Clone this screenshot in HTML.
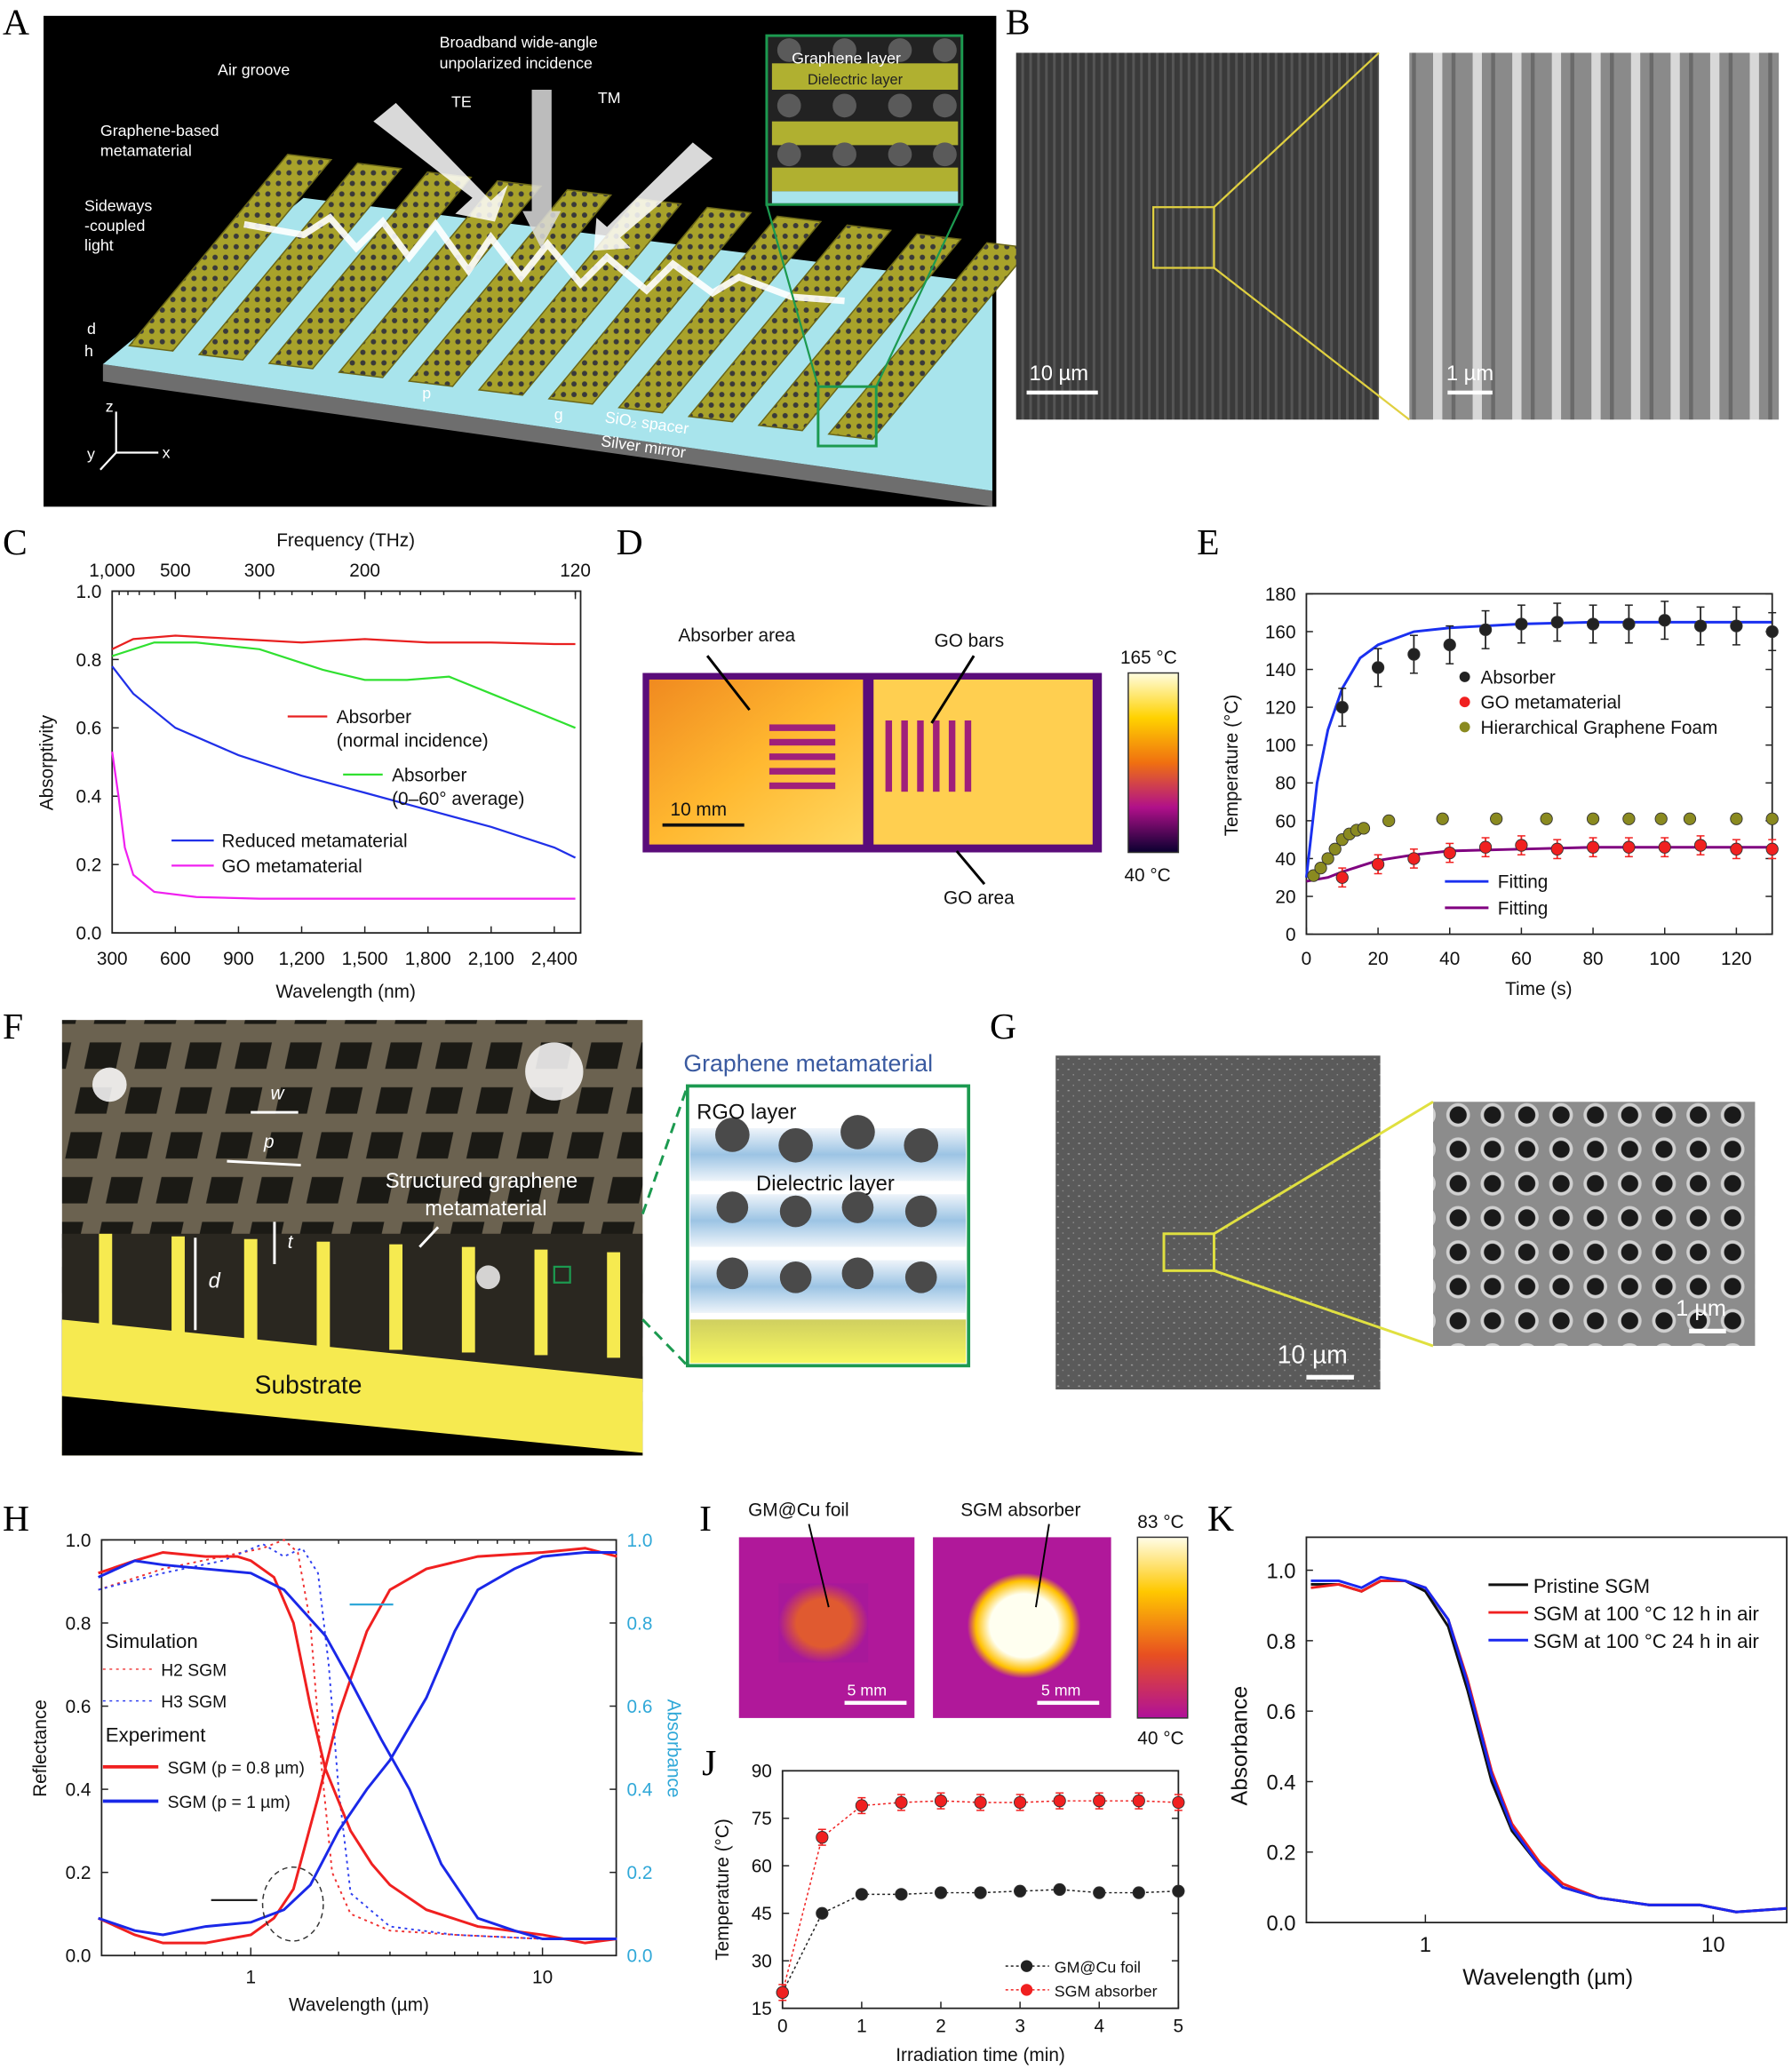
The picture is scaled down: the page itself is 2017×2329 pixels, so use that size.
<!DOCTYPE html>
<html><head><meta charset="utf-8"><style>
html,body{margin:0;padding:0;background:#fff;}
svg{display:block;font-family:"Liberation Sans",sans-serif;}
.pl{font-family:"Liberation Serif",serif;font-size:28px;}
.t{font-size:14px;fill:#111;}
.tw{font-size:12px;fill:#fff;}
</style></head><body>
<svg id="fig" xmlns="http://www.w3.org/2000/svg" width="2017" height="2329" viewBox="0 0 1358 1568" preserveAspectRatio="none">
<defs>
<pattern id="stripesB" width="6" height="10" patternUnits="userSpaceOnUse"><rect width="6" height="10" fill="#3a3a3a"/><rect width="2" height="10" fill="#555"/></pattern>
<pattern id="stripesB2" width="30" height="10" patternUnits="userSpaceOnUse"><rect width="30" height="10" fill="#8a8a8a"/><rect x="6" width="7" height="10" fill="#d8d8d8"/><rect x="20" width="3" height="10" fill="#6a6a6a"/></pattern>
<pattern id="gridF" width="38" height="34" patternUnits="userSpaceOnUse" patternTransform="skewX(-12)"><rect width="38" height="34" fill="#6b6250"/><rect x="8" y="8" width="24" height="20" fill="#1b1a15"/></pattern>
<pattern id="holesG" width="26" height="26" patternUnits="userSpaceOnUse"><rect width="26" height="26" fill="#8c8c8c"/><circle cx="13" cy="13" r="9" fill="#d0d0d0"/><circle cx="13" cy="13" r="6.5" fill="#1a1a1a"/></pattern>
<pattern id="noiseG" width="8" height="8" patternUnits="userSpaceOnUse"><rect width="8" height="8" fill="#5a5a5a"/><rect x="1" y="2" width="1.5" height="1" fill="#9a9a9a"/><rect x="5" y="6" width="1" height="1" fill="#8a8a8a"/></pattern>
<pattern id="barTex" width="8" height="8" patternUnits="userSpaceOnUse"><rect width="8" height="8" fill="#a8a22a"/><circle cx="3" cy="3" r="2" fill="#3a3a3a"/></pattern>
<linearGradient id="cbD" x1="0" y1="0" x2="0" y2="1"><stop offset="0" stop-color="#fffde0"/><stop offset="0.25" stop-color="#ffd200"/><stop offset="0.5" stop-color="#f07010"/><stop offset="0.75" stop-color="#b0108a"/><stop offset="1" stop-color="#0a0030"/></linearGradient>
<linearGradient id="cbI" x1="0" y1="0" x2="0" y2="1"><stop offset="0" stop-color="#fffde8"/><stop offset="0.3" stop-color="#ffc800"/><stop offset="0.65" stop-color="#e85020"/><stop offset="1" stop-color="#b0109a"/></linearGradient>
<radialGradient id="hotI"><stop offset="0.6" stop-color="#fffff0"/><stop offset="0.85" stop-color="#ffc000"/><stop offset="1" stop-color="#b0189a"/></radialGradient>
<radialGradient id="warmI"><stop offset="0.6" stop-color="#e05a30"/><stop offset="1" stop-color="#a8189a"/></radialGradient>
<linearGradient id="thermD" x1="0" y1="0" x2="1" y2="1"><stop offset="0" stop-color="#f08a20"/><stop offset="0.5" stop-color="#ffb830"/><stop offset="1" stop-color="#ffd860"/></linearGradient>
<linearGradient id="layerBlue" x1="0" y1="0" x2="0" y2="1"><stop offset="0" stop-color="#eef4fa"/><stop offset="0.5" stop-color="#9cc4e4"/><stop offset="1" stop-color="#eef4fa"/></linearGradient>
<linearGradient id="subY" x1="0" y1="0" x2="0" y2="1"><stop offset="0" stop-color="#cfcf60"/><stop offset="1" stop-color="#f8f860"/></linearGradient>
</defs>

<g>
<text class="pl" x="2" y="26">A</text><text class="pl" x="762" y="26">B</text>
<text class="pl" x="2" y="420">C</text><text class="pl" x="467" y="420">D</text><text class="pl" x="907" y="420">E</text>
<text class="pl" x="2" y="787">F</text><text class="pl" x="750" y="787">G</text>
<text class="pl" x="2" y="1160">H</text><text class="pl" x="530" y="1160">I</text><text class="pl" x="532" y="1345">J</text><text class="pl" x="915" y="1160">K</text>
</g>

<g>
<rect x="33" y="12" width="722" height="372" fill="#000"/>
<polygon points="78,289 752,384 752,372 78,276" fill="#6e6e6e"/>
<polygon points="78,276 752,372 752,215 230,150" fill="#a8e4ec"/>
<g id="barsA"></g>
<g fill="#fff" opacity="0.85">
<polygon points="283,92 300,78 372,152 385,140 375,168 345,162 358,150"/>
<rect x="403" y="68" width="15" height="100" fill="#ddd"/><polygon points="396,160 425,160 410,188" fill="#ddd"/>
<polygon points="525,108 540,120 470,180 478,188 450,190 452,165 460,172"/>
</g>
<path d="M185,170 L230,178 L250,165 L270,188 L290,168 L310,195 L330,170 L355,205 L372,180 L395,210 L415,185 L440,215 L460,195 L490,220 L510,200 L540,222 L560,210 L600,225 L640,228" fill="none" stroke="#fff" stroke-width="5" opacity="0.9"/>
<text class="tw" x="333" y="36">Broadband wide-angle</text><text class="tw" x="333" y="52">unpolarized incidence</text>
<text class="tw" x="165" y="57">Air groove</text>
<text class="tw" x="76" y="103">Graphene-based</text><text class="tw" x="76" y="118">metamaterial</text>
<text class="tw" x="64" y="160">Sideways</text><text class="tw" x="64" y="175">-coupled</text><text class="tw" x="64" y="190">light</text>
<text class="tw" x="342" y="81">TE</text><text class="tw" x="453" y="78">TM</text>
<text class="tw" x="458" y="320" font-size="11" transform="rotate(8 458 320)">SiO₂ spacer</text>
<text class="tw" x="455" y="338" font-size="11" fill="#333" transform="rotate(8 455 338)">Silver mirror</text>
<text class="tw" x="66" y="253">d</text><text class="tw" x="64" y="270">h</text>
<text class="tw" x="320" y="302">p</text><text class="tw" x="420" y="318">g</text>
<path d="M88,343 L88,312 M88,343 L120,343 M88,343 L76,356" stroke="#fff" stroke-width="1.5"/>
<text class="tw" x="80" y="312">z</text><text class="tw" x="123" y="347">x</text><text class="tw" x="66" y="348">y</text>
<rect x="581" y="27" width="148" height="128" fill="#222" stroke="#1c9a50" stroke-width="2"/>
<rect x="585" y="48" width="141" height="20" fill="#b0b030"/><rect x="585" y="92" width="141" height="18" fill="#b0b030"/><rect x="585" y="127" width="141" height="18" fill="#b0b030"/><rect x="585" y="145" width="141" height="9" fill="#a8e4ec"/>
<g fill="#5a5a5a"><circle cx="598" cy="38" r="9"/><circle cx="640" cy="38" r="9"/><circle cx="682" cy="38" r="9"/><circle cx="716" cy="38" r="9"/><circle cx="598" cy="80" r="9"/><circle cx="640" cy="80" r="9"/><circle cx="682" cy="80" r="9"/><circle cx="716" cy="80" r="9"/><circle cx="598" cy="117" r="9"/><circle cx="640" cy="117" r="9"/><circle cx="682" cy="117" r="9"/><circle cx="716" cy="117" r="9"/></g>
<text class="tw" x="600" y="48" font-size="11">Graphene layer</text><text x="612" y="64" font-size="11" fill="#222">Dielectric layer</text>
<rect x="620" y="293" width="44" height="45" fill="none" stroke="#1c9a50" stroke-width="2"/>
<path d="M581,155 L620,293 M729,155 L664,293" stroke="#1c9a50" stroke-width="1.5"/>
</g>

<g>
<rect x="770" y="40" width="275" height="278" fill="url(#stripesB)"/>
<rect x="1068" y="40" width="280" height="278" fill="url(#stripesB2)"/>
<rect x="874" y="157" width="46" height="46" fill="none" stroke="#e0d040" stroke-width="1.5"/>
<path d="M920,157 L1045,40 M920,203 L1068,318" stroke="#e0d040" stroke-width="1.5"/>
<text x="780" y="288" font-size="16" fill="#fff">10 µm</text><rect x="778" y="296" width="54" height="3" fill="#fff"/>
<text x="1096" y="288" font-size="16" fill="#fff">1 µm</text><rect x="1097" y="296" width="34" height="3" fill="#fff"/>
</g>

<g id="chartC"></g>
<g>
<rect x="487" y="510" width="348" height="136" fill="#5a0c7a"/>
<rect x="492" y="515" width="162" height="125" fill="url(#thermD)"/>
<rect x="662" y="515" width="166" height="125" fill="#ffcf50"/>
<g fill="#a0207a"><rect x="583" y="549" width="50" height="5"/><rect x="583" y="560" width="50" height="5"/><rect x="583" y="571" width="50" height="5"/><rect x="583" y="582" width="50" height="5"/><rect x="583" y="593" width="50" height="5"/>
<rect x="671" y="546" width="5" height="54"/><rect x="683" y="546" width="5" height="54"/><rect x="695" y="546" width="5" height="54"/><rect x="707" y="546" width="5" height="54"/><rect x="719" y="546" width="5" height="54"/><rect x="731" y="546" width="5" height="54"/></g>
<rect x="502" y="624" width="62" height="2.5" fill="#111"/><text class="t" x="508" y="618" font-size="15">10 mm</text>
<text class="t" x="514" y="486" font-size="16">Absorber area</text><text class="t" x="708" y="490" font-size="16">GO bars</text><text class="t" x="715" y="685" font-size="16">GO area</text>
<path d="M536,497 L568,538 M738,497 L706,548 M746,670 L725,645" stroke="#000" stroke-width="2"/>
<rect x="855" y="510" width="38" height="136" fill="url(#cbD)" stroke="#333"/>
<text class="t" x="849" y="503" font-size="15">165 °C</text><text class="t" x="852" y="668" font-size="15">40 °C</text>
</g>
<g id="chartE"></g>

<g>
<rect x="47" y="773" width="440" height="330" fill="url(#gridF)"/>
<rect x="47" y="935" width="440" height="120" fill="#2a2720"/>
<g id="teethF"></g>
<polygon points="47,1000 487,1045 487,1103 47,1103" fill="#f6ea50"/>
<polygon points="47,1058 47,1103 487,1103 487,1101" fill="#000"/>
<circle cx="83" cy="822" r="13" fill="#fff" opacity="0.85"/><circle cx="420" cy="812" r="22" fill="#fff" opacity="0.85"/><circle cx="370" cy="968" r="9" fill="#fff" opacity="0.8"/>
<text x="193" y="1056" font-size="19" fill="#111">Substrate</text>
<text x="292" y="900" font-size="16" fill="#fff">Structured graphene</text><text x="322" y="921" font-size="16" fill="#fff">metamaterial</text>
<text x="205" y="833" font-size="14" fill="#fff" font-style="italic">w</text><text x="200" y="870" font-size="14" fill="#fff" font-style="italic">p</text><text x="158" y="976" font-size="16" fill="#fff" font-style="italic">d</text><text x="218" y="946" font-size="14" fill="#fff" font-style="italic">t</text>
<path d="M190,843 L226,843 M172,880 L228,883 M148,938 L148,1008 M208,926 L208,958 M318,945 L332,930" stroke="#fff" stroke-width="2"/>
<text x="518" y="812" font-size="18" fill="#3a5aa0">Graphene metamaterial</text>
<rect x="521" y="823" width="213" height="212" fill="#fff" stroke="#1c9a50" stroke-width="2.5"/>
<rect x="523" y="855" width="209" height="40" fill="url(#layerBlue)"/><rect x="523" y="905" width="209" height="40" fill="url(#layerBlue)"/><rect x="523" y="955" width="209" height="40" fill="url(#layerBlue)"/>
<rect x="523" y="1000" width="209" height="33" fill="url(#subY)"/>
<g fill="#4a4a4a"><circle cx="555" cy="860" r="13"/><circle cx="603" cy="868" r="13"/><circle cx="650" cy="858" r="13"/><circle cx="698" cy="868" r="13"/><circle cx="555" cy="915" r="12"/><circle cx="603" cy="918" r="12"/><circle cx="650" cy="915" r="12"/><circle cx="698" cy="918" r="12"/><circle cx="555" cy="965" r="12"/><circle cx="603" cy="968" r="12"/><circle cx="650" cy="965" r="12"/><circle cx="698" cy="968" r="12"/></g>
<text x="528" y="848" font-size="16" fill="#111">RGO layer</text><text x="573" y="902" font-size="16" fill="#111">Dielectric layer</text>
<path d="M487,920 L521,823 M487,1000 L521,1035" stroke="#1c9a50" stroke-width="2" stroke-dasharray="8 5"/>
<rect x="420" y="960" width="12" height="12" fill="none" stroke="#1c9a50" stroke-width="1.5"/>
</g>

<g>
<rect x="800" y="800" width="246" height="253" fill="url(#noiseG)"/>
<rect x="1086" y="835" width="244" height="185" fill="url(#holesG)"/>
<rect x="882" y="935" width="38" height="28" fill="none" stroke="#e0e040" stroke-width="2"/>
<path d="M920,935 L1086,835 M920,963 L1086,1020" stroke="#e0e040" stroke-width="2"/>
<text x="968" y="1033" font-size="19" fill="#fff">10 µm</text><rect x="990" y="1042" width="36" height="3.5" fill="#fff"/>
<text x="1270" y="997" font-size="17" fill="#fff">1 µm</text><rect x="1280" y="1007" width="28" height="3.5" fill="#fff"/>
</g>

<g id="chartH"></g>
<g>
<rect x="560" y="1165" width="133" height="137" fill="#b0189a"/>
<rect x="590" y="1200" width="68" height="60" fill="url(#warmI)"/>
<rect x="707" y="1165" width="135" height="137" fill="#b0189a"/>
<rect x="733" y="1192" width="86" height="80" rx="14" fill="url(#hotI)"/>
<rect x="640" y="1289" width="47" height="3" fill="#fff"/><text x="642" y="1285" font-size="12" fill="#fff">5 mm</text>
<rect x="786" y="1289" width="47" height="3" fill="#fff"/><text x="789" y="1285" font-size="12" fill="#fff">5 mm</text>
<text class="t" x="567" y="1149">GM@Cu foil</text><text class="t" x="728" y="1149">SGM absorber</text>
<path d="M613,1155 L628,1218 M795,1155 L785,1218" stroke="#000" stroke-width="1.3"/>
<rect x="862" y="1165" width="38" height="137" fill="url(#cbI)" stroke="#333"/>
<text class="t" x="862" y="1158">83 °C</text><text class="t" x="862" y="1322">40 °C</text>
</g>
<g id="chartJ"></g>
<g id="chartK"></g>
</svg>

<script>
const cWlNormal=[300,400,600,900,1200,1500,1800,2100,2400,2500];
const cAbsNormal=[0.83,0.86,0.87,0.86,0.85,0.86,0.85,0.85,0.845,0.845];
const cWlAvg=[300,500,700,1000,1300,1500,1700,1900,2100,2300,2500];
const cAbsAvg=[0.81,0.85,0.85,0.83,0.77,0.74,0.74,0.75,0.70,0.65,0.60];
const cWlReduced=[300,400,600,900,1200,1500,1800,2100,2400,2500];
const cAbsReduced=[0.78,0.70,0.60,0.52,0.46,0.41,0.36,0.31,0.25,0.22];
const cWlGO=[300,330,360,400,500,700,1000,1500,2000,2500];
const cAbsGO=[0.53,0.40,0.25,0.17,0.12,0.105,0.10,0.10,0.10,0.10];
const cXTicks=[300,600,900,1200,1500,1800,2100,2400];
const cXTickLabels=["300","600","900","1,200","1,500","1,800","2,100","2,400"];
const cYTicks=[0,0.2,0.4,0.6,0.8,1.0];
const cFreqTicks=[1000,500,300,200,120];
const cFreqLabels=["1,000","500","300","200","120"];
const eTime=[10,20,30,40,50,60,70,80,90,100,110,120,130];
const eAbsorber=[120,141,148,153,161,164,165,164,164,166,163,163,160];
const eGO=[30,37,40,43,46,47,45,46,46,46,47,45,45];
const eHGFTime=[2,4,6,8,10,12,14,16,23,38,53,67,80,90,99,107,120,130];
const eHGF=[31,35,40,45,50,53,55,56,60,61,61,61,61,61,61,61,61,61];
const eFitTime=[0,3,6,10,15,20,30,40,60,80,100,130];
const eFitAbs=[30,80,108,130,146,153,160,162,164,165,165,165];
const eFitGO=[28,29,30,33,36,39,42,44,45,46,46,46];
const eXTicks=[0,20,40,60,80,100,120];
const eYTicks=[0,20,40,60,80,100,120,140,160,180];
const hWlRedR=[0.3,0.4,0.5,0.7,0.9,1.0,1.2,1.4,1.6,1.8,2.2,2.6,3.0,4.0,6.0,10,14,18];
const hRedR=[0.92,0.95,0.97,0.96,0.96,0.95,0.91,0.80,0.60,0.45,0.30,0.22,0.17,0.11,0.07,0.05,0.03,0.04];
const hWlRedA=[0.3,0.4,0.5,0.7,1.0,1.2,1.4,1.7,2.0,2.5,3.0,4.0,6.0,10,14,18];
const hRedA=[0.09,0.05,0.03,0.03,0.05,0.09,0.16,0.38,0.58,0.78,0.88,0.93,0.96,0.97,0.98,0.96];
const hWlBlueR=[0.3,0.4,0.5,0.7,1.0,1.3,1.8,2.2,2.8,3.5,4.5,6.0,8.0,10,14,18];
const hBlueR=[0.91,0.95,0.94,0.93,0.92,0.88,0.77,0.66,0.52,0.40,0.22,0.09,0.06,0.04,0.04,0.04];
const hWlBlueA=[0.3,0.4,0.5,0.7,1.0,1.3,1.6,2.0,2.5,3.0,4.0,5.0,6.0,8.0,10,14,18];
const hBlueA=[0.09,0.06,0.05,0.07,0.08,0.11,0.17,0.30,0.40,0.47,0.62,0.78,0.88,0.93,0.96,0.97,0.97];
const hWlSimRed=[0.3,0.5,0.8,1.1,1.3,1.45,1.6,1.75,1.9,2.2,3.0,5.0,10,18];
const hSimRed=[0.88,0.93,0.96,0.98,1.0,0.97,0.80,0.45,0.20,0.10,0.06,0.05,0.04,0.04];
const hWlSimBlue=[0.3,0.5,0.8,1.1,1.3,1.5,1.7,1.85,2.0,2.2,3.0,5.0,10,18];
const hSimBlue=[0.88,0.92,0.95,0.99,0.96,0.98,0.92,0.70,0.40,0.15,0.07,0.05,0.04,0.04];
const hYTicks=[0,0.2,0.4,0.6,0.8,1.0];
const hXTicks=[1,10];
const jTime=[0,0.5,1,1.5,2,2.5,3,3.5,4,4.5,5];
const jGM=[20,45,51,51,51.5,51.5,52,52.5,51.5,51.5,52];
const jSGM=[20,69,79,80,80.5,80,80,80.5,80.5,80.5,80];
const jXTicks=[0,1,2,3,4,5];
const jYTicks=[15,30,45,60,75,90];
const kWl=[0.4,0.5,0.6,0.7,0.85,1.0,1.2,1.4,1.7,2.0,2.5,3.0,4.0,6.0,9.0,12,18];
const kPristine=[0.96,0.96,0.94,0.97,0.97,0.94,0.84,0.66,0.40,0.26,0.16,0.10,0.07,0.05,0.05,0.03,0.04];
const k12h=[0.95,0.96,0.94,0.97,0.97,0.95,0.86,0.69,0.43,0.28,0.17,0.11,0.07,0.05,0.05,0.03,0.04];
const k24h=[0.97,0.97,0.95,0.98,0.97,0.95,0.86,0.68,0.42,0.27,0.16,0.10,0.07,0.05,0.05,0.03,0.04];
const kYTicks=[0,0.2,0.4,0.6,0.8,1.0];
const kXTicks=[1,10];

const NS='http://www.w3.org/2000/svg';
function mk(tag,attrs,parent){const e=document.createElementNS(NS,tag);for(const k in attrs)e.setAttribute(k,attrs[k]);parent.appendChild(e);return e;}
function lin(d0,d1,r0,r1){return v=>r0+(v-d0)/(d1-d0)*(r1-r0);}
function lg(d0,d1,r0,r1){return v=>r0+(Math.log10(v)-Math.log10(d0))/(Math.log10(d1)-Math.log10(d0))*(r1-r0);}
function pts(xs,ys,sx,sy){return xs.map((x,i)=>sx(x).toFixed(1)+','+sy(ys[i]).toFixed(1)).join(' ');}
function txt(parent,x,y,s,opt){const t=mk('text',Object.assign({x:x,y:y,'font-size':14,fill:'#111'},opt||{}),parent);t.textContent=s;return t;}

(function(){const g=document.getElementById('barsA');
for(let i=0;i<11;i++){const fx=98+i*53,fy=262+i*6.7;
const b=mk('polygon',{points:`${fx},${fy} ${fx+33},${fy+4} ${fx+33+120},${fy+4-145} ${fx+120},${fy-145}`,fill:'url(#barTex)',stroke:'#6a6618','stroke-width':1},g);

}})();
(function(){const g=document.getElementById('teethF');
for(let i=0;i<8;i++){const x=75+i*55;const r=mk('rect',{x:x,y:935+i*2,width:10,height:80,fill:'#f6ea50'},g);

}})();

function frame(g,x0,y0,x1,y1){mk('rect',{x:x0,y:y0,width:x1-x0,height:y1-y0,fill:'none',stroke:'#222','stroke-width':1.2},g);}
function line(g,xs,ys,sx,sy,color,name,w,dash){const p=mk('polyline',{points:pts(xs,ys,sx,sy),fill:'none',stroke:color,'stroke-width':w||1.5},g);if(dash)p.setAttribute('stroke-dasharray',dash);

return p;}
function dots(g,xs,ys,sx,sy,fill,name,err){xs.forEach((x,i)=>{if(err){mk('line',{x1:sx(x),x2:sx(x),y1:sy(ys[i]-err),y2:sy(ys[i]+err),stroke:fill,'stroke-width':1.2},g);mk('line',{x1:sx(x)-3,x2:sx(x)+3,y1:sy(ys[i]-err),y2:sy(ys[i]-err),stroke:fill},g);mk('line',{x1:sx(x)-3,x2:sx(x)+3,y1:sy(ys[i]+err),y2:sy(ys[i]+err),stroke:fill},g);}
const c=mk('circle',{cx:sx(x),cy:sy(ys[i]),r:4.5,fill:fill,stroke:'#333','stroke-width':0.6},g);

});}

(function(){const g=document.getElementById('chartC');const X0=85,X1=440,Y0=707,Y1=448;
const sx=lin(300,2525,X0,X1),sy=lin(0,1,Y0,Y1);frame(g,X0,Y1,X1,Y0);
cXTicks.forEach((v,i)=>{mk('line',{x1:sx(v),x2:sx(v),y1:Y0,y2:Y0-5,stroke:'#222'},g);txt(g,sx(v),Y0+24,cXTickLabels[i],{'text-anchor':'middle'});});
cYTicks.forEach(v=>{mk('line',{x1:X0,x2:X0+5,y1:sy(v),y2:sy(v),stroke:'#222'},g);txt(g,X0-8,sy(v)+5,v.toFixed(1),{'text-anchor':'end'});});
cFreqTicks.forEach((f,i)=>{const x=sx(300000/f);mk('line',{x1:x,x2:x,y1:Y1,y2:Y1+6,stroke:'#222'},g);txt(g,x,Y1-11,cFreqLabels[i],{'text-anchor':'middle'});});
for(let f=1000;f>=120;f-=(f>300?100:(f>200?20:10))){const x=sx(300000/f);mk('line',{x1:x,x2:x,y1:Y1,y2:Y1+3,stroke:'#222'},g);}
txt(g,262,414,'Frequency (THz)',{'text-anchor':'middle'});txt(g,262,756,'Wavelength (nm)',{'text-anchor':'middle'});
txt(g,40,578,'Absorptivity',{'text-anchor':'middle',transform:'rotate(-90 40 578)'});
line(g,cWlNormal,cAbsNormal,sx,sy,'#e82020','absorber-normal-line');
line(g,cWlAvg,cAbsAvg,sx,sy,'#30e030','absorber-average-line');
line(g,cWlReduced,cAbsReduced,sx,sy,'#2030e8','reduced-metamaterial-line');
line(g,cWlGO,cAbsGO,sx,sy,'#f020f0','go-metamaterial-line');
mk('line',{x1:218,x2:248,y1:543,y2:543,stroke:'#e82020','stroke-width':1.5},g);txt(g,255,548,'Absorber');txt(g,255,566,'(normal incidence)');
mk('line',{x1:260,x2:290,y1:587,y2:587,stroke:'#30e030','stroke-width':1.5},g);txt(g,297,592,'Absorber');txt(g,297,610,'(0–60° average)');
mk('line',{x1:130,x2:162,y1:637,y2:637,stroke:'#2030e8','stroke-width':1.5},g);txt(g,168,642,'Reduced metamaterial');
mk('line',{x1:130,x2:162,y1:656,y2:656,stroke:'#f020f0','stroke-width':1.5},g);txt(g,168,661,'GO metamaterial');})();

(function(){const g=document.getElementById('chartE');const X0=990,X1=1343,Y0=708,Y1=450;
const sx=lin(0,130,X0,X1),sy=lin(0,180,Y0,Y1);frame(g,X0,Y1,X1,Y0);
eXTicks.forEach(v=>{mk('line',{x1:sx(v),x2:sx(v),y1:Y0,y2:Y0-5,stroke:'#222'},g);txt(g,sx(v),Y0+23,String(v),{'text-anchor':'middle'});});
eYTicks.forEach(v=>{mk('line',{x1:X0,x2:X0+5,y1:sy(v),y2:sy(v),stroke:'#222'},g);mk('line',{x1:X1,x2:X1-5,y1:sy(v),y2:sy(v),stroke:'#222'},g);txt(g,X0-8,sy(v)+5,String(v),{'text-anchor':'end'});});
txt(g,1166,754,'Time (s)',{'text-anchor':'middle'});txt(g,938,580,'Temperature (°C)',{'text-anchor':'middle',transform:'rotate(-90 938 580)'});
line(g,eFitTime,eFitAbs,sx,sy,'#1a30f0','fit-absorber-line',2);
line(g,eFitTime,eFitGO,sx,sy,'#800080','fit-go-line',2);
dots(g,eTime,eAbsorber,sx,sy,'#222','absorber-point',10);
dots(g,eTime,eGO,sx,sy,'#f02020','go-point',5);
dots(g,eHGFTime,eHGF,sx,sy,'#8a8a20','hgf-point');
mk('circle',{cx:1110,cy:513,r:4,fill:'#222'},g);txt(g,1122,518,'Absorber');
mk('circle',{cx:1110,cy:532,r:4,fill:'#f02020'},g);txt(g,1122,537,'GO metamaterial');
mk('circle',{cx:1110,cy:551,r:4,fill:'#8a8a20'},g);txt(g,1122,556,'Hierarchical Graphene Foam');
mk('line',{x1:1095,x2:1128,y1:668,y2:668,stroke:'#1a30f0','stroke-width':2},g);txt(g,1135,673,'Fitting');
mk('line',{x1:1095,x2:1128,y1:688,y2:688,stroke:'#800080','stroke-width':2},g);txt(g,1135,693,'Fitting');})();

(function(){const g=document.getElementById('chartH');const X0=77,X1=467,Y0=1482,Y1=1167;
const sx=lg(0.308,17.9,X0,X1),sy=lin(0,1,Y0,Y1);frame(g,X0,Y1,X1,Y0);
hYTicks.forEach(v=>{mk('line',{x1:X0,x2:X0+5,y1:sy(v),y2:sy(v),stroke:'#222'},g);mk('line',{x1:X1,x2:X1-5,y1:sy(v),y2:sy(v),stroke:'#222'},g);txt(g,X0-8,sy(v)+5,v.toFixed(1),{'text-anchor':'end'});txt(g,X1+8,sy(v)+5,v.toFixed(1),{fill:'#30a8d8'});});
hXTicks.forEach(v=>{mk('line',{x1:sx(v),x2:sx(v),y1:Y0,y2:Y0-6,stroke:'#222'},g);txt(g,sx(v),Y0+21,String(v),{'text-anchor':'middle'});});
[0.4,0.5,0.6,0.7,0.8,0.9,2,3,4,5,6,7,8,9].forEach(v=>{mk('line',{x1:sx(v),x2:sx(v),y1:Y0,y2:Y0-3,stroke:'#222'},g);mk('line',{x1:sx(v),x2:sx(v),y1:Y1,y2:Y1+3,stroke:'#222'},g);});
txt(g,272,1524,'Wavelength (µm)',{'text-anchor':'middle'});
txt(g,35,1325,'Reflectance',{'text-anchor':'middle',transform:'rotate(-90 35 1325)'});
txt(g,506,1325,'Absorbance',{'text-anchor':'middle',fill:'#30a8d8',transform:'rotate(90 506 1325)'});
line(g,hWlSimRed,hSimRed,sx,sy,'#f03030','sim-h2-line',1.3,'2 3');
line(g,hWlSimBlue,hSimBlue,sx,sy,'#3040f0','sim-h3-line',1.3,'2 3');
line(g,hWlRedR,hRedR,sx,sy,'#f02020','sgm-08-reflectance-line',2);
line(g,hWlRedA,hRedA,sx,sy,'#f02020','sgm-08-absorbance-line',2);
line(g,hWlBlueR,hBlueR,sx,sy,'#1a28e8','sgm-1-reflectance-line',2);
line(g,hWlBlueA,hBlueA,sx,sy,'#1a28e8','sgm-1-absorbance-line',2);
mk('ellipse',{cx:222,cy:1443,rx:23,ry:28,fill:'none',stroke:'#333','stroke-dasharray':'4 3'},g);
mk('line',{x1:195,x2:160,y1:1440,y2:1440,stroke:'#222','stroke-width':1.5},g);
mk('line',{x1:265,x2:298,y1:1216,y2:1216,stroke:'#30a8d8','stroke-width':1.5},g);
txt(g,80,1249,'Simulation',{'font-size':15});
mk('line',{x1:78,x2:118,y1:1265,y2:1265,stroke:'#f03030','stroke-dasharray':'2 3'},g);txt(g,122,1270,'H2 SGM',{'font-size':13});
mk('line',{x1:78,x2:118,y1:1289,y2:1289,stroke:'#3040f0','stroke-dasharray':'2 3'},g);txt(g,122,1294,'H3 SGM',{'font-size':13});
txt(g,80,1320,'Experiment',{'font-size':15});
mk('line',{x1:78,x2:120,y1:1339,y2:1339,stroke:'#f02020','stroke-width':2.5},g);txt(g,127,1344,'SGM (p = 0.8 µm)',{'font-size':13});
mk('line',{x1:78,x2:120,y1:1365,y2:1365,stroke:'#1a28e8','stroke-width':2.5},g);txt(g,127,1370,'SGM (p = 1 µm)',{'font-size':13});})();

(function(){const g=document.getElementById('chartJ');const X0=593,X1=893,Y0=1522,Y1=1342;
const sx=lin(0,5,X0,X1),sy=lin(15,90,Y0,Y1);frame(g,X0,Y1,X1,Y0);
jXTicks.forEach(v=>{mk('line',{x1:sx(v),x2:sx(v),y1:Y0,y2:Y0-5,stroke:'#222'},g);txt(g,sx(v),Y0+18,String(v),{'text-anchor':'middle'});});
jYTicks.forEach(v=>{mk('line',{x1:X0,x2:X0+5,y1:sy(v),y2:sy(v),stroke:'#222'},g);mk('line',{x1:X1,x2:X1-5,y1:sy(v),y2:sy(v),stroke:'#222'},g);txt(g,X0-8,sy(v)+5,String(v),{'text-anchor':'end'});});
txt(g,743,1562,'Irradiation time (min)',{'text-anchor':'middle'});
txt(g,552,1432,'Temperature (°C)',{'text-anchor':'middle',transform:'rotate(-90 552 1432)'});
line(g,jTime,jGM,sx,sy,'#222','gm-cu-line',1,'2 2');
line(g,jTime,jSGM,sx,sy,'#f02020','sgm-line',1,'2 2');
dots(g,jTime,jGM,sx,sy,'#222','gm-cu-point',1.2);
dots(g,jTime,jSGM,sx,sy,'#f02020','sgm-point',2.5);
mk('line',{x1:762,x2:795,y1:1490,y2:1490,stroke:'#222','stroke-dasharray':'2 2'},g);mk('circle',{cx:778,cy:1490,r:4.5,fill:'#222'},g);txt(g,799,1495,'GM@Cu foil',{'font-size':12});
mk('line',{x1:762,x2:795,y1:1508,y2:1508,stroke:'#f02020','stroke-dasharray':'2 2'},g);mk('circle',{cx:778,cy:1508,r:4.5,fill:'#f02020'},g);txt(g,799,1513,'SGM absorber',{'font-size':12});})();

(function(){const g=document.getElementById('chartK');const X0=990,X1=1354,Y0=1457,Y1=1190;
const sx=lg(0.386,18,X0,X1),sy=lin(0,1,Y0,Y1);
mk('rect',{x:X0,y:1165,width:X1-X0,height:Y0-1165,fill:'none',stroke:'#222','stroke-width':1.2},g);
kYTicks.forEach(v=>{mk('line',{x1:X0,x2:X0+5,y1:sy(v),y2:sy(v),stroke:'#222'},g);txt(g,X0-8,sy(v)+6,v.toFixed(1),{'text-anchor':'end','font-size':16});});
kXTicks.forEach(v=>{mk('line',{x1:sx(v),x2:sx(v),y1:Y0,y2:Y0-6,stroke:'#222'},g);txt(g,sx(v),Y0+22,String(v),{'text-anchor':'middle','font-size':16});});
txt(g,1173,1504,'Wavelength (µm)',{'text-anchor':'middle','font-size':17});
txt(g,945,1323,'Absorbance',{'text-anchor':'middle','font-size':17,transform:'rotate(-90 945 1323)'});
line(g,kWl,kPristine,sx,sy,'#111','pristine-sgm-line',2);
line(g,kWl,k12h,sx,sy,'#f02020','sgm-12h-line',2);
line(g,kWl,k24h,sx,sy,'#1a28f0','sgm-24h-line',2);
mk('line',{x1:1128,x2:1158,y1:1201,y2:1201,stroke:'#111','stroke-width':2},g);txt(g,1162,1207,'Pristine SGM',{'font-size':15});
mk('line',{x1:1128,x2:1158,y1:1222,y2:1222,stroke:'#f02020','stroke-width':2},g);txt(g,1162,1228,'SGM at 100 °C 12 h in air',{'font-size':15});
mk('line',{x1:1128,x2:1158,y1:1243,y2:1243,stroke:'#1a28f0','stroke-width':2},g);txt(g,1162,1249,'SGM at 100 °C 24 h in air',{'font-size':15});})();
</script>
</body></html>
